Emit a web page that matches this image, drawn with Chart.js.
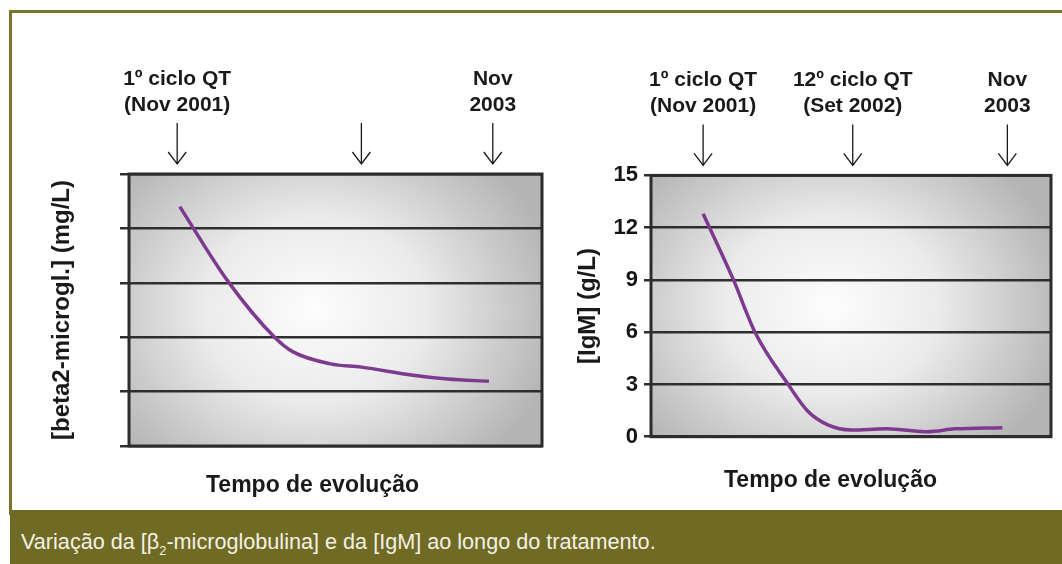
<!DOCTYPE html>
<html>
<head>
<meta charset="utf-8">
<script src="https://cdn.jsdelivr.net/npm/chart.js@4.4.1/dist/chart.umd.min.js"></script>
<style>
html, body { margin: 0; padding: 0; background: #fff; }
body { width: 1062px; height: 564px; position: relative; overflow: hidden; font-family: "Liberation Sans", Arial, sans-serif; }
#frame { position: absolute; left: 9px; top: 10px; width: 1060px; height: 505px; border-left: 3px solid #7b742b; border-top: 3px solid #7b742b; box-sizing: border-box; }
#band { position: absolute; left: 10px; top: 510px; right: 0; bottom: 0; background: #6f6a24; }
#cap { position: absolute; left: 21px; top: 531px; color: #f4f1e4; font-size: 22px; line-height: 22px; white-space: nowrap; transform-origin: 0 0; }
#cap .sub { font-size: 13px; position: relative; top: 6px; }
canvas { position: absolute; }
</style>
</head>
<body>
<div id="frame"></div>
<div id="band"></div>
<div id="cap">Variação da [β<span class="sub">2</span>-microglobulina] e da [IgM] ao longo do tratamento.</div>
<canvas id="chartB2M" width="536" height="488" style="left:14px;top:14px"></canvas>
<canvas id="chartIgM" width="502" height="483" style="left:560px;top:14px"></canvas>
<script>
// months after 1st cycle (Nov 2001) and values
const monthsB2M = [0, 3.7, 7.4, 8.8, 11.7, 14.1, 18.1, 20.8, 24];
const beta2 = [4.4, 3.04, 1.99, 1.73, 1.51, 1.45, 1.30, 1.23, 1.19];

const monthsIgM = [0, 2.4, 4.2, 6.8, 8.4, 10, 11.9, 14.7, 16.1, 18, 20.2, 24];
const igm = [12.8, 9.06, 5.94, 3.02, 1.46, 0.68, 0.39, 0.45, 0.39, 0.29, 0.45, 0.52];

const arrowMonthsB2M = [-0.2, 14.1, 24.3];
const arrowTextB2M = [['1º ciclo QT', '(Nov 2001)'], [], ['Nov', '2003']];
const arrowMonthsIgM = [0, 12, 24.4];
const arrowTextIgM = [['1º ciclo QT', '(Nov 2001)'], ['12º ciclo QT', '(Set 2002)'], ['Nov', '2003']];

const xTitle = 'Tempo de evolução';
const FONT = "'Liberation Sans', Arial, sans-serif";

Chart.defaults.font.family = FONT;
Chart.defaults.color = '#1a1a1a';

// grey plot background with a white glow, plus the dark frame
const plotBg = {
    id: 'plotBg',
    beforeDraw(chart) {
        const { ctx, chartArea: a } = chart;
        const rx = a.width * 0.6, ry = a.height * 0.75;
        const cx = a.left + a.width * 0.45, cy = a.top + a.height * 0.5;
        ctx.save();
        ctx.translate(cx, cy);
        ctx.scale(rx, ry);
        const g = ctx.createRadialGradient(0, 0, 0, 0, 0, 1);
        g.addColorStop(0, '#fdfdfd');
        g.addColorStop(0.45, '#ebebeb');
        g.addColorStop(1, '#b4b4b4');
        ctx.fillStyle = g;
        ctx.fillRect((a.left - cx) / rx, (a.top - cy) / ry, a.width / rx, a.height / ry);
        ctx.restore();
    },
    beforeDatasetsDraw(chart) {
        const { ctx, chartArea: a } = chart;
        ctx.save();
        ctx.strokeStyle = '#2c2c2c';
        ctx.lineWidth = 3;
        ctx.strokeRect(a.left, a.top, a.width, a.height);
        ctx.restore();
    }
};

function arrowPlugin(months, texts) {
    return {
        id: 'arrowMarks',
        afterDraw(chart) {
            const { ctx, chartArea: a, scales } = chart;
            ctx.save();
            ctx.fillStyle = '#1a1a1a';
            ctx.strokeStyle = '#1a1a1a';
            ctx.lineWidth = 1.3;
            ctx.font = 'bold 21px ' + FONT;
            ctx.textAlign = 'center';
            ctx.textBaseline = 'alphabetic';
            months.forEach((m, i) => {
                const x = scales.x.getPixelForValue(m);
                const lines = texts[i];
                if (lines[0]) ctx.fillText(lines[0], x, a.top - 89);
                if (lines[1]) ctx.fillText(lines[1], x, a.top - 63);
                const y0 = a.top - 51, y1 = a.top - 10;
                ctx.beginPath();
                ctx.moveTo(x, y0);
                ctx.lineTo(x, y1);
                ctx.moveTo(x - 9, y1 - 12);
                ctx.lineTo(x, y1);
                ctx.lineTo(x + 9, y1 - 12);
                ctx.stroke();
            });
            ctx.restore();
        }
    };
}

function makeChart(id, xs, ys, cfg) {
    return new Chart(document.getElementById(id), {
        type: 'line',
        data: {
            datasets: [{
                data: xs.map((x, i) => ({ x: x, y: ys[i] })),
                borderColor: '#7d3a8f',
                borderWidth: 3.5,
                pointRadius: 0,
                cubicInterpolationMode: 'monotone'
            }]
        },
        options: {
            responsive: false,
            animation: false,
            events: [],
            layout: { padding: cfg.padding },
            plugins: {
                legend: { display: false },
                tooltip: { enabled: false },
                title: {
                    display: true,
                    position: 'bottom',
                    text: xTitle,
                    color: '#1a1a1a',
                    font: { size: 23, weight: 'bold' },
                    padding: { top: cfg.titleGap, bottom: 0 }
                }
            },
            scales: {
                x: { type: 'linear', display: false, min: cfg.xMin, max: cfg.xMax },
                y: {
                    min: cfg.yMin,
                    max: cfg.yMax,
                    ticks: {
                        stepSize: cfg.step,
                        display: cfg.showTicks,
                        color: '#151515',
                        padding: 6,
                        font: { size: 22, weight: 'bold' }
                    },
                    grid: { color: '#2e2e2e', lineWidth: 2.5, tickLength: cfg.tickLen },
                    border: { display: false },
                    title: {
                        display: true,
                        text: cfg.yTitle,
                        color: '#1a1a1a',
                        font: { size: 24, weight: 'bold' },
                        padding: { top: cfg.yTitlePad, bottom: 0 }
                    },
                    afterFit(s) { s.width = cfg.yWidth; }
                }
            }
        },
        plugins: [plotBg, arrowPlugin(cfg.arrows, cfg.arrowText)]
    });
}

makeChart('chartB2M', monthsB2M, beta2, {
    padding: { left: 69, right: 8, top: 160, bottom: 2.4 },
    titleGap: 26,
    xMin: -3.94, xMax: 28.12,
    yMin: 0, yMax: 5, step: 1, showTicks: false, tickLen: 9,
    yTitle: '[beta2-microgl.] (mg/L)', yTitlePad: -34.6, yWidth: 46,
    arrows: arrowMonthsB2M, arrowText: arrowTextB2M
});

makeChart('chartIgM', monthsIgM, igm, {
    padding: { left: 50, right: 11, top: 161.4, bottom: 2.4 },
    titleGap: 30.3,
    xMin: -4.18, xMax: 27.9,
    yMin: 0, yMax: 15, step: 3, showTicks: true, tickLen: 7,
    yTitle: '[IgM] (g/L)', yTitlePad: -35.9, yWidth: 41,
    arrows: arrowMonthsIgM, arrowText: arrowTextIgM
});

// condensed caption: squeeze to the width seen in the picture
const cap = document.getElementById('cap');
cap.style.transform = 'scaleX(' + (635 / cap.scrollWidth) + ')';
</script>
</body>
</html>
